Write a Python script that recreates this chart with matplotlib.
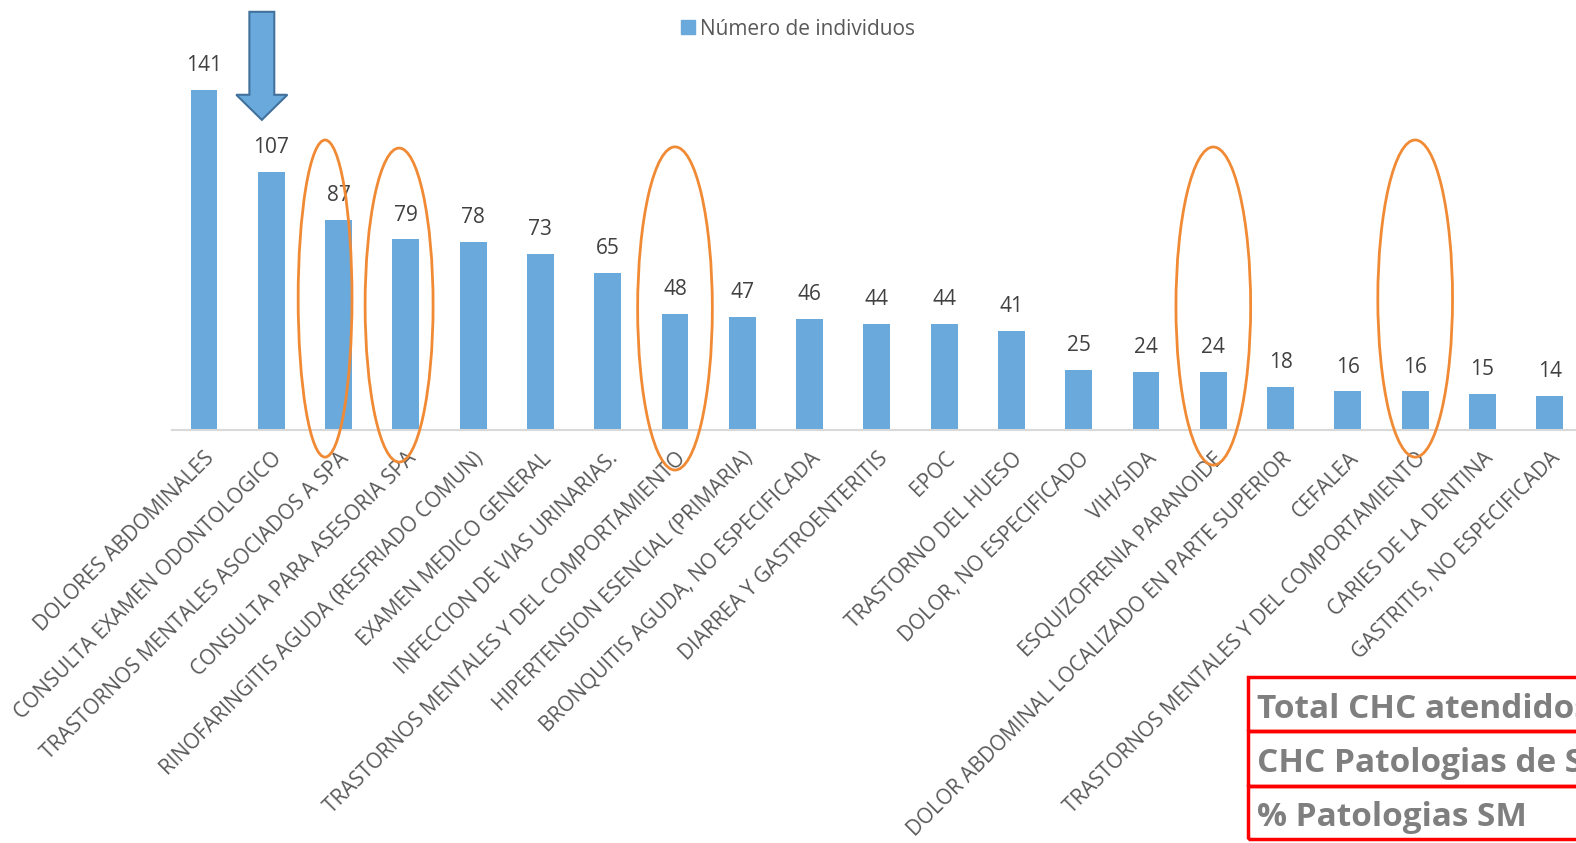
import matplotlib
matplotlib.use("Agg")
import matplotlib.pyplot as plt
from matplotlib.patches import Ellipse, FancyArrow, Rectangle
import numpy as np

categories = [
    "DOLORES ABDOMINALES",
    "CONSULTA EXAMEN ODONTOLOGICO",
    "TRASTORNOS MENTALES ASOCIADOS A SPA",
    "CONSULTA PARA ASESORIA SPA",
    "RINOFARINGITIS AGUDA (RESFRIADO COMUN)",
    "EXAMEN MEDICO GENERAL",
    "INFECCION DE VIAS URINARIAS.",
    "TRASTORNOS MENTALES Y DEL COMPORTAMIENTO",
    "HIPERTENSION ESENCIAL (PRIMARIA)",
    "BRONQUITIS AGUDA, NO ESPECIFICADA",
    "DIARREA Y GASTROENTERITIS",
    "EPOC",
    "TRASTORNO DEL HUESO",
    "DOLOR, NO ESPECIFICADO",
    "VIH/SIDA",
    "ESQUIZOFRENIA PARANOIDE",
    "DOLOR ABDOMINAL LOCALIZADO EN PARTE SUPERIOR",
    "CEFALEA",
    "TRASTORNOS MENTALES Y DEL COMPORTAMIENTO",
    "CARIES DE LA DENTINA",
    "GASTRITIS, NO ESPECIFICADA",
]
values = [141, 107, 87, 79, 78, 73, 65, 48, 47, 46, 44, 44, 41, 25, 24, 24, 18, 16, 16, 15, 14]
series_name = "Número de individuos"
highlighted = [2, 3, 7, 15, 18]
table_rows = ["Total CHC atendidos", "CHC Patologias de SM", "% Patologias SM"]

plt.rcParams['font.family'] = ['Open Sans', 'DejaVu Sans']

W, H = 1576, 843
fig = plt.figure(figsize=(W / 100, H / 100), dpi=100)
ax = fig.add_axes([172 / W, (H - 430) / H, (W - 172) / W, 430 / H])

bar_color = "#6AA9DC"
x = np.arange(len(values))
ax.bar(x, values, width=0.40, color=bar_color, zorder=2)
ax.set_xlim(-0.475, 20.39)
ax.set_ylim(0, 178.3)

for xi, v in zip(x, values):
    ax.annotate(str(v), (xi, v), xytext=(0, 10), textcoords="offset points",
                ha="center", va="bottom", fontsize=15, color="#404040")

for s in ["top", "right", "left"]:
    ax.spines[s].set_visible(False)
ax.spines["bottom"].set_color("#D9D9D9")
ax.spines["bottom"].set_linewidth(1.5)
ax.set_yticks([])
ax.set_xticks(x)
ax.set_xticklabels(categories, rotation=45, ha="right", va="top",
                   rotation_mode="anchor", fontsize=15, color="#595959")
ax.tick_params(axis="x", length=0, pad=13)
for lbl in ax.get_xticklabels():
    lbl.set_clip_on(False)

# Ellipses around mental-health related categories
ell_specs = {2: (-0.20, 0.80, 54.5, 131.5), 3: (-0.10, 1.01, 51.8, 130.2),
             7: (0.0, 1.11, 50.4, 134.0), 15: (0.0, 1.11, 51.4, 131.9),
             18: (0.0, 1.11, 54.5, 131.5)}
for idx in highlighted:
    dx, w, cy, h = ell_specs[idx]
    e = Ellipse((idx + dx, cy), w, h, fill=False, edgecolor="#F08A35",
                linewidth=2, clip_on=False, zorder=5)
    ax.add_patch(e)

# Arrow pointing to the second bar
arr = FancyArrow(0.86, 173.4, 0, -173.4 + 128.6, width=0.37, head_width=0.76,
                 head_length=10.4, length_includes_head=True, facecolor=bar_color,
                 edgecolor="#41719C", linewidth=1.5, clip_on=False, zorder=5)
ax.add_patch(arr)

# Legend
leg = ax.legend([Rectangle((0, 0), 1, 1, color=bar_color)], [series_name],
                loc="upper center", bbox_to_anchor=(798 / W, 1 - 0 / H),
                bbox_transform=fig.transFigure, frameon=False, fontsize=15,
                handlelength=0.65, handleheight=0.65, handletextpad=0.25, labelcolor="#595959")

# Table (cut off at right edge, as in the original)
rows_y = [677, 731, 786, 839]
for i, label in enumerate(table_rows):
    y0, y1 = rows_y[i], rows_y[i + 1]
    rect = Rectangle((1248 / W, 1 - y1 / H), (W - 1248 + 20) / W, (y1 - y0) / H,
                     transform=fig.transFigure, fill=False, edgecolor="#FF0000",
                     linewidth=2.5, clip_on=False)
    fig.patches.append(rect)
    fig.text(1257 / W, 1 - ((y0 + y1) / 2 + 5) / H, label, fontsize=24, fontweight="bold",
             color="#7F7F7F", ha="left", va="center")

fig.savefig("out.png", dpi=100)
